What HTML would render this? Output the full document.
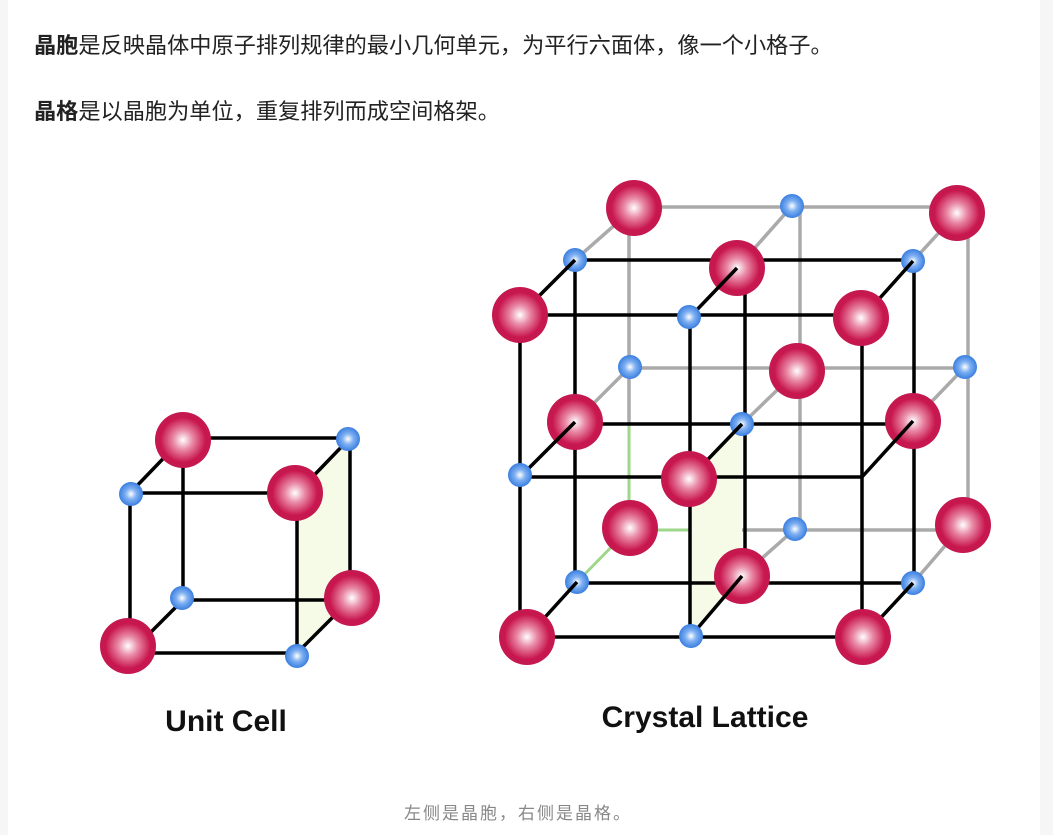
<!DOCTYPE html>
<html><head><meta charset="utf-8"><style>
html,body{margin:0;padding:0;width:1053px;height:835px;overflow:hidden;background:#f6f6f7;}
.main{position:absolute;left:8px;top:0;width:1032px;height:835px;background:#fff;}
p{position:absolute;left:26px;margin:0;font-family:"Liberation Sans","Noto Sans CJK SC",sans-serif;font-size:22.2px;color:#222;white-space:nowrap;}
.cap{position:absolute;top:799px;width:1032px;text-align:center;font-family:"Liberation Sans","Noto Sans CJK SC",sans-serif;font-size:17px;letter-spacing:2px;color:#888;}
svg{position:absolute;left:0;top:0;}
</style></head><body>
<div class="main"></div>
<p style="left:34px;top:28px"><b>晶胞</b>是反映晶体中原子排列规律的最小几何单元，为平行六面体，像一个小格子。</p>
<p style="left:34px;top:94px"><b>晶格</b>是以晶胞为单位，重复排列而成空间格架。</p>
<svg width="1053" height="835" viewBox="0 0 1053 835">
<defs>
<radialGradient id="r" cx="50%" cy="50%" r="50%"><stop offset="0" stop-color="#fff"/><stop offset="0.35" stop-color="#e98aa6"/><stop offset="0.8" stop-color="#c8174f"/><stop offset="1" stop-color="#c4184f"/></radialGradient>
<radialGradient id="b" cx="50%" cy="50%" r="50%"><stop offset="0" stop-color="#fff"/><stop offset="0.45" stop-color="#7fb0f2"/><stop offset="1" stop-color="#3a7fe0"/></radialGradient>
</defs>
<polygon points="297,493 350,440 350,600 297,653" fill="#f6fbe8"/>
<g stroke="#000" stroke-width="3.5" fill="none">
<rect x="183" y="438" width="167" height="162"/>
<rect x="130" y="493" width="167" height="160"/>
<line x1="130" y1="493" x2="183" y2="438"/><line x1="297" y1="493" x2="350" y2="438"/>
<line x1="130" y1="653" x2="183" y2="600"/><line x1="297" y1="653" x2="350" y2="600"/>
</g>
<g fill="url(#r)"><circle cx="183" cy="440" r="28"/><circle cx="295" cy="493" r="28"/><circle cx="352" cy="598" r="28"/><circle cx="128" cy="646" r="28"/></g>
<g fill="url(#b)"><circle cx="131" cy="494" r="12"/><circle cx="348" cy="439" r="12"/><circle cx="182" cy="598" r="12"/><circle cx="297" cy="656" r="12"/></g>
<text x="226" y="731" text-anchor="middle" font-family="Liberation Sans,sans-serif" font-weight="bold" font-size="30" fill="#111">Unit Cell</text>

<g stroke="#aaa" stroke-width="3.5" fill="none">
<line x1="632" y1="207" x2="968" y2="207"/><line x1="630" y1="368" x2="968" y2="368"/><line x1="742" y1="530" x2="968" y2="530"/>
<line x1="629" y1="207" x2="629" y2="424"/><line x1="800" y1="206" x2="800" y2="530"/><line x1="968" y1="213" x2="968" y2="525"/>
<line x1="575" y1="260" x2="634" y2="208"/><line x1="737" y1="268" x2="792" y2="206"/><line x1="913" y1="261" x2="957" y2="213"/>
<line x1="575" y1="422" x2="630" y2="367"/><line x1="742" y1="424" x2="797" y2="371"/><line x1="913" y1="421" x2="965" y2="367"/>
<line x1="742" y1="576" x2="795" y2="529"/><line x1="913" y1="583" x2="963" y2="525"/>
</g>
<g stroke="#9ed68a" stroke-width="3" fill="none">
<line x1="629" y1="424" x2="629" y2="530"/><line x1="629" y1="530" x2="742" y2="530"/><line x1="577" y1="582" x2="630" y2="528"/>
</g>
<g fill="url(#r)"><circle cx="634" cy="208" r="28"/><circle cx="957" cy="213" r="28"/><circle cx="797" cy="371" r="28"/><circle cx="630" cy="528" r="28"/><circle cx="963" cy="525" r="28"/></g>
<g fill="url(#b)"><circle cx="792" cy="206" r="12"/><circle cx="630" cy="367" r="12"/><circle cx="965" cy="367" r="12"/><circle cx="795" cy="529" r="12"/></g>
<polygon points="690,478 742,424 742,576 691,636" fill="#f6fbe8"/>
<g stroke="#000" stroke-width="3.5" fill="none">
<line x1="575" y1="260" x2="913" y2="260"/><line x1="575" y1="424" x2="913" y2="424"/><line x1="577" y1="583" x2="913" y2="583"/>
<line x1="575" y1="260" x2="575" y2="583"/><line x1="745" y1="268" x2="745" y2="576"/><line x1="914" y1="261" x2="914" y2="583"/>
</g>
<g fill="url(#r)"><circle cx="737" cy="268" r="28"/><circle cx="575" cy="422" r="28"/><circle cx="913" cy="421" r="28"/><circle cx="742" cy="576" r="28"/></g>
<g fill="url(#b)"><circle cx="575" cy="260" r="12"/><circle cx="913" cy="261" r="12"/><circle cx="742" cy="424" r="12"/><circle cx="577" cy="582" r="12"/><circle cx="913" cy="583" r="12"/></g>
<g stroke="#000" stroke-width="3.5" fill="none">
<line x1="520" y1="315" x2="575" y2="260"/><line x1="690" y1="317" x2="737" y2="268"/><line x1="862" y1="318" x2="913" y2="261"/>
<line x1="520" y1="477" x2="575" y2="422"/><line x1="690" y1="478" x2="742" y2="424"/><line x1="862" y1="477" x2="913" y2="421"/>
<line x1="527" y1="637" x2="577" y2="582"/><line x1="691" y1="636" x2="742" y2="576"/><line x1="863" y1="637" x2="913" y2="583"/>
<line x1="520" y1="315" x2="862" y2="315"/><line x1="520" y1="477" x2="862" y2="477"/><line x1="520" y1="637" x2="862" y2="637"/>
<line x1="520" y1="315" x2="520" y2="637"/><line x1="690" y1="317" x2="690" y2="637"/><line x1="862" y1="318" x2="862" y2="637"/>
</g>
<g fill="url(#r)"><circle cx="520" cy="315" r="28"/><circle cx="861" cy="318" r="28"/><circle cx="689" cy="479" r="28"/><circle cx="527" cy="637" r="28"/><circle cx="863" cy="637" r="28"/></g>
<g fill="url(#b)"><circle cx="689" cy="317" r="12"/><circle cx="520" cy="475" r="12"/><circle cx="691" cy="636" r="12"/></g>
<text x="705" y="727" text-anchor="middle" font-family="Liberation Sans,sans-serif" font-weight="bold" font-size="30" fill="#111">Crystal Lattice</text>
</svg>
<div class="cap" style="left:2px">左侧是晶胞，右侧是晶格。</div>
</body></html>
